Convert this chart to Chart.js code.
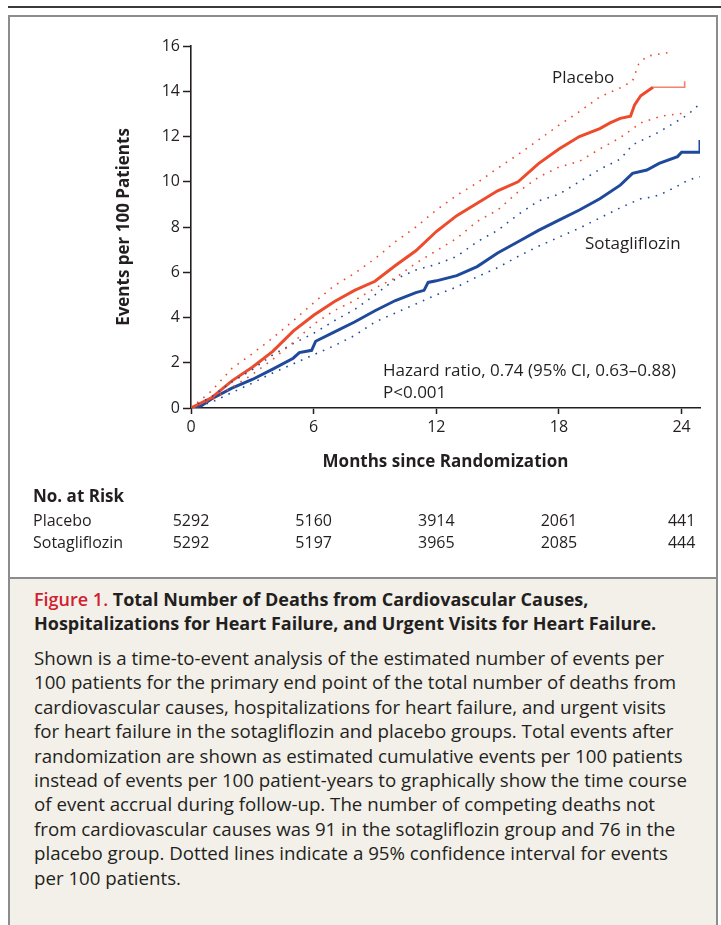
<!DOCTYPE html>
<html>
<head>
<meta charset="utf-8">
<script src="https://cdn.jsdelivr.net/npm/chart.js@4.4.1/dist/chart.umd.min.js"></script>
<style>
  html, body { margin: 0; padding: 0; background: #ffffff; }
  body { width: 721px; height: 925px; position: relative; overflow: hidden; font-family: "Open Sans", sans-serif; color: #231f20; }
  #rule { position: absolute; left: 8px; right: 0; top: 6px; height: 2px; background: #3a3a3a; }
  #frame { position: absolute; left: 8px; top: 15px; width: 706px; height: 560px; border: 2px solid #8c8c8c; }
  #caption { position: absolute; left: 8px; top: 577px; width: 706px; height: 360px; border: 2px solid #8c8c8c; background: #f3f0ea; }
  #cv { position: absolute; left: 0; top: 0; }
  .cap-title { position: absolute; left: 24px; top: 8px; font-weight: 700; font-size: 18px; line-height: 24.4px; white-space: nowrap; color: #231f20; }
  .cap-title .fig { color: #d1202f; font-weight: 600; }
  .cap-body { position: absolute; left: 24px; top: 67px; font-size: 18.7px; line-height: 24.4px; white-space: nowrap; color: #231f20; }
</style>
</head>
<body>
<div id="rule"></div>
<div id="frame"></div>
<div id="caption">
  <div class="cap-title"><span class="fig">Figure 1.</span> Total Number of Deaths from Cardiovascular Causes,<br>Hospitalizations for Heart Failure, and Urgent Visits for Heart Failure.</div>
  <div class="cap-body">Shown is a time-to-event analysis of the estimated number of events per<br>100 patients for the primary end point of the total number of deaths from<br>cardiovascular causes, hospitalizations for heart failure, and urgent visits<br>for heart failure in the sotagliflozin and placebo groups. Total events after<br>randomization are shown as estimated cumulative events per 100 patients<br>instead of events per 100 patient-years to graphically show the time course<br>of event accrual during follow-up. The number of competing deaths not<br>from cardiovascular causes was 91 in the sotagliflozin group and 76 in the<br>placebo group. Dotted lines indicate a 95% confidence interval for events<br>per 100 patients.</div>
</div>
<canvas id="cv" width="721" height="577"></canvas>
<script>
// ---- Data ----
const placeboMonths = [0,1,2,3,4,5,6,7,8,9,10,11,12,13,14,15,16,17,18,19,20,20.5,21,21.5,21.7,22,22.6,24.15,24.15];
const placeboRate   = [0,0.45,1.2,1.8,2.5,3.4,4.1,4.7,5.2,5.6,6.3,6.95,7.8,8.5,9.05,9.6,10.0,10.8,11.45,12.0,12.35,12.6,12.8,12.9,13.4,13.8,14.18,14.18,14.44];

const placeboUpperMonths = [0,1,2,3,4,5,6,7,8,9,10,11,12,13,14,15,16,17,18,19,20,21,21.6,21.9,22.3,23.6];
const placeboUpper       = [0,0.75,1.75,2.4,3.1,3.85,4.65,5.4,5.95,6.6,7.35,8.0,8.75,9.4,9.95,10.6,11.2,11.85,12.5,13.1,13.75,14.15,14.45,15.2,15.55,15.75];

const placeboLowerMonths = [0,1,2,3,4,5,6,7,8,9,10,11,12,13,14,15,16,17,18,19,20,21,22,23,24.3];
const placeboLower       = [0,0.35,0.9,1.48,2.15,2.9,3.7,4.3,4.75,5.3,5.75,6.4,6.95,7.5,8.25,8.75,9.55,10.2,10.65,10.9,11.45,11.95,12.6,12.9,13.05];

const sotaMonths = [0,0.5,1,2,3,4,5,5.3,5.9,6.1,7,8,9,10,11,11.4,11.6,12,13,14,15,16,17,18,19,20,21,21.6,22.3,22.9,23.8,24.0,24.9,24.9];
const sotaRate   = [0,0.1,0.4,0.88,1.26,1.72,2.2,2.45,2.55,2.95,3.35,3.8,4.3,4.75,5.1,5.2,5.55,5.62,5.85,6.25,6.85,7.35,7.85,8.3,8.75,9.25,9.85,10.37,10.52,10.81,11.11,11.3,11.3,11.85];

const sotaUpperMonths = [0,1,2,3,4,5,6,7,8,9,10,11,12,13,14,15,16,17,18,19,20,21,21.6,22.9,24.3,24.9];
const sotaUpper       = [0,0.5,1.15,1.7,2.35,2.85,3.3,3.85,4.35,5.0,5.7,6.1,6.35,6.7,7.35,7.85,8.55,9.15,9.45,10.0,10.55,11.0,11.63,12.2,12.96,13.45];

const sotaLowerMonths = [0,1,2,3,4,5,6,7,8,9,10,11,12,13,14,15,16,17,18,19,20,21,22,22.6,23,23.4,24,24.3,24.9];
const sotaLower       = [0,0.25,0.68,1.1,1.55,1.95,2.35,2.75,3.2,3.8,4.2,4.6,5.0,5.35,5.8,6.2,6.7,7.15,7.55,7.95,8.4,8.85,9.25,9.33,9.45,9.63,9.9,10.07,10.22];

const xTicks = [0,6,12,18,24];
const yTicks = [0,2,4,6,8,10,12,14,16];
const riskGroups = ["Placebo","Sotagliflozin"];
const riskPlacebo = [5292,5160,3914,2061,441];
const riskSota    = [5292,5197,3965,2085,444];

// ---- Styles ----
const RED = '#ee4a2c';
const RED_LIGHT = '#f3826c';
const BLUE = '#1f4a9c';
const TXT = '#231f20';
const FONT = '"Open Sans", sans-serif';

const pts = (xs, ys) => xs.map((x, i) => ({x, y: ys[i]}));

const solid = (label, xs, ys, color, extra) => Object.assign({
  label, data: pts(xs, ys), borderColor: color, borderWidth: 3,
  pointRadius: 0, fill: false, tension: 0, borderJoinStyle: 'miter'
}, extra || {});
const dotted = (label, xs, ys, color) => ({
  label, data: pts(xs, ys), borderColor: color, borderWidth: 1.6,
  borderDash: [1.6, 6.4], pointRadius: 0, fill: false, tension: 0
});

const textPlugin = {
  id: 'texts',
  afterDraw(chart) {
    const ctx = chart.ctx;
    const xs = chart.scales.x;
    ctx.save();
    ctx.fillStyle = TXT;
    ctx.textBaseline = 'middle';
    ctx.textAlign = 'left';
    ctx.font = '17px ' + FONT;
    ctx.fillText('Placebo', 552, 78);
    ctx.fillText('Sotagliflozin', 585, 244);
    ctx.font = '17px ' + FONT;
    ctx.fillText('Hazard ratio, 0.74 (95% CI, 0.63\u20130.88)', 383, 371);
    ctx.fillText('P<0.001', 383, 393);
    // risk table
    ctx.font = 'bold 17px ' + FONT;
    ctx.fillText('No. at Risk', 33, 497);
    ctx.font = '16px ' + FONT;
    ctx.fillText(riskGroups[0], 33, 521);
    ctx.fillText(riskGroups[1], 33, 543);
    ctx.textAlign = 'center';
    xTicks.forEach((m, i) => {
      const px = xs.getPixelForValue(m);
      ctx.fillText(String(riskPlacebo[i]), px, 521);
      ctx.fillText(String(riskSota[i]), px, 543);
    });
    ctx.restore();
  }
};

new Chart(document.getElementById('cv'), {
  type: 'line',
  data: {
    datasets: [
      dotted('Placebo upper', placeboUpperMonths, placeboUpper, RED),
      dotted('Placebo lower', placeboLowerMonths, placeboLower, RED),
      dotted('Sotagliflozin upper', sotaUpperMonths, sotaUpper, BLUE),
      dotted('Sotagliflozin lower', sotaLowerMonths, sotaLower, BLUE),
      solid('Placebo', placeboMonths, placeboRate, RED, {
        segment: {
          borderWidth: c => c.p0.parsed.x >= 22.55 ? 1.6 : undefined,
          borderColor: c => c.p0.parsed.x >= 22.55 ? RED_LIGHT : undefined
        }
      }),
      solid('Sotagliflozin', sotaMonths, sotaRate, BLUE)
    ]
  },
  options: {
    responsive: false,
    animation: false,
    devicePixelRatio: 1,
    layout: { padding: { left: 0, top: 46, right: 21, bottom: 0 } },
    plugins: { legend: { display: false }, tooltip: { enabled: false } },
    scales: {
      x: {
        type: 'linear', min: 0, max: 24.9,
        afterFit: s => { s.height = 169; },
        afterBuildTicks: s => { s.ticks = xTicks.map(v => ({value: v})); },
        ticks: { includeBounds: false, autoSkip: false, maxRotation: 0, padding: 4, color: TXT, font: { family: FONT, size: 16 } },
        grid: { display: true, drawOnChartArea: false, drawTicks: true, tickLength: 6, tickColor: TXT, tickWidth: 1.5 },
        border: { display: true, color: TXT, width: 1.6 },
        title: { display: true, text: 'Months since Randomization', color: TXT, font: { family: FONT, size: 17, weight: 'bold' }, padding: { top: 0, bottom: 105 } }
      },
      y: {
        type: 'linear', min: 0, max: 16,
        afterFit: s => { s.width = 191; },
        afterBuildTicks: s => { s.ticks = yTicks.map(v => ({value: v})); },
        ticks: { padding: 3, color: TXT, font: { family: FONT, size: 16 } },
        grid: { display: true, drawOnChartArea: false, drawTicks: true, tickLength: 8, tickColor: TXT, tickWidth: 1.5 },
        border: { display: true, color: TXT, width: 1.6 },
        title: { display: true, text: 'Events per 100 Patients', color: TXT, font: { family: FONT, size: 17, weight: 'bold' }, padding: { top: 114, bottom: 0 } }
      }
    }
  },
  plugins: [textPlugin]
});
</script>
</body>
</html>
